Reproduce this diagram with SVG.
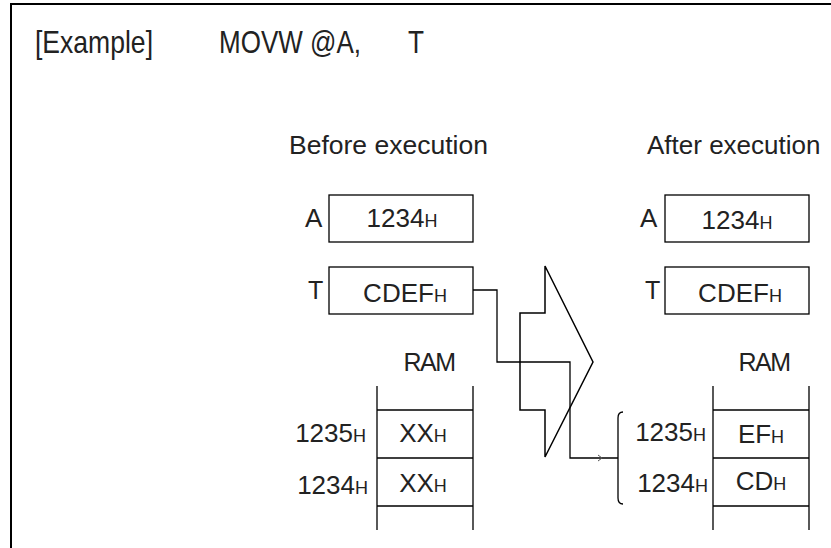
<svg xmlns="http://www.w3.org/2000/svg" width="831" height="548" viewBox="0 0 831 548">
<style>
.t{font-family:"Liberation Sans",Arial,sans-serif;fill:#222;}
.m{font-size:26px;}
.s{font-size:18px;}
.h{font-size:26.5px;}
.ti{font-size:32px;}
.box{fill:#fff;stroke:#000;stroke-width:1.3;}
.ln{fill:none;stroke:#000;stroke-width:1.3;}
</style>
<rect width="831" height="548" fill="#fff"/>
<path d="M11,548 V4 H831" fill="none" stroke="#000" stroke-width="2"/>
<g id="title">
<text class="t ti" x="35" y="53" textLength="118" lengthAdjust="spacingAndGlyphs">[Example]</text>
<text class="t ti" x="219" y="53" textLength="142" lengthAdjust="spacingAndGlyphs">MOVW @A,</text>
<text class="t ti" x="408" y="53" textLength="16" lengthAdjust="spacingAndGlyphs">T</text>
</g>
<g id="headings">
<text class="t h" x="289" y="154">Before execution</text>
<text class="t" x="647" y="154" font-size="26">After execution</text>
</g>
<g id="before-A">
<text class="t" x="305" y="227" font-size="26">A</text>
<rect class="box" x="329" y="195" width="144" height="47"/>
<text class="t" x="402" y="227" text-anchor="middle"><tspan class="m">1234</tspan><tspan class="s">H</tspan></text>
</g>
<g id="before-T">
<text class="t" x="308" y="299" font-size="25">T</text>
<rect class="box" x="329" y="267" width="144" height="47"/>
<text class="t" x="405" y="302" text-anchor="middle"><tspan class="m">CDEF</tspan><tspan class="s">H</tspan></text>
</g>
<g id="before-RAM">
<text class="t" x="429" y="371" font-size="25" text-anchor="middle" letter-spacing="-1.5">RAM</text>
<path class="ln" d="M377,386 V530 M473,386 V530 M377,410 H473 M377,458 H473 M377,506 H473"/>
<text class="t" x="366" y="442" text-anchor="end"><tspan class="m">1235</tspan><tspan class="s">H</tspan></text>
<text class="t" x="368" y="494" text-anchor="end"><tspan class="m">1234</tspan><tspan class="s">H</tspan></text>
<text class="t" x="423" y="442" text-anchor="middle"><tspan class="m">XX</tspan><tspan class="s">H</tspan></text>
<text class="t" x="423" y="492" text-anchor="middle"><tspan class="m">XX</tspan><tspan class="s">H</tspan></text>
</g>
<g id="arrow">
<path d="M545,266 V313 H520 V410 H545 V457 L593,362 Z" fill="none" stroke="#000" stroke-width="1.5"/>
</g>
<g id="after-A">
<text class="t" x="640" y="227" font-size="26">A</text>
<rect class="box" x="665" y="195" width="144" height="47"/>
<text class="t" x="737" y="229" text-anchor="middle"><tspan class="m">1234</tspan><tspan class="s">H</tspan></text>
</g>
<g id="after-T">
<text class="t" x="645" y="299" font-size="25">T</text>
<rect class="box" x="665" y="267" width="144" height="47"/>
<text class="t" x="740" y="302" text-anchor="middle"><tspan class="m">CDEF</tspan><tspan class="s">H</tspan></text>
</g>
<g id="after-RAM">
<text class="t" x="764" y="371" font-size="25" text-anchor="middle" letter-spacing="-1.5">RAM</text>
<path class="ln" d="M713,386 V530 M809,386 V530 M713,410 H809 M713,458 H809 M713,506 H809"/>
<text class="t" x="706" y="441" text-anchor="end"><tspan class="m">1235</tspan><tspan class="s">H</tspan></text>
<text class="t" x="708" y="492" text-anchor="end"><tspan class="m">1234</tspan><tspan class="s">H</tspan></text>
<text class="t" x="761" y="443" text-anchor="middle"><tspan class="m">EF</tspan><tspan class="s">H</tspan></text>
<text class="t" x="761" y="490" text-anchor="middle"><tspan class="m">CD</tspan><tspan class="s">H</tspan></text>
<path class="ln" d="M623,412 Q618,412 618,418 V498 Q618,504 623,504"/>
</g>
<g id="connectors">
<path class="ln" d="M473,290 H497 V362 H570 V458 H618"/>
<path d="M598,455 L602,458 L598,461" fill="none" stroke="#555" stroke-width="1"/>
</g>
</svg>
